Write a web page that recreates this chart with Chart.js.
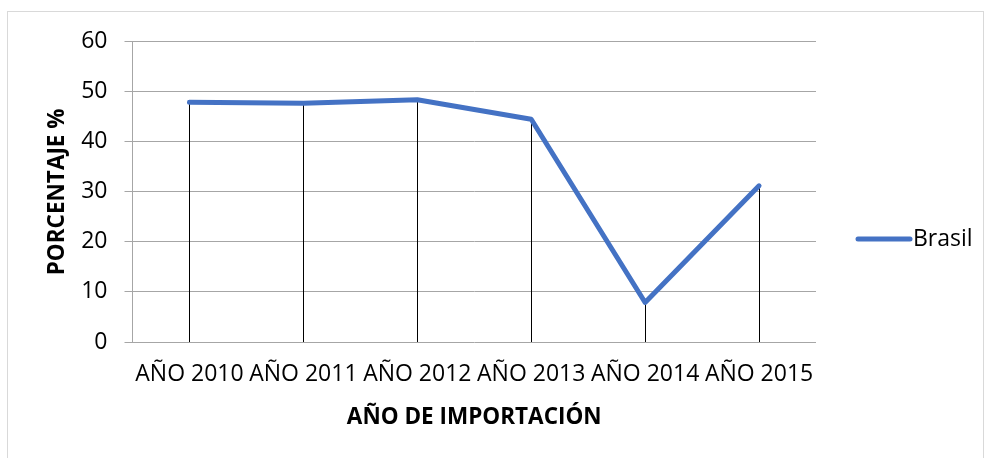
<!DOCTYPE html>
<html>
<head>
<meta charset="utf-8">
<script src="https://cdn.jsdelivr.net/npm/chart.js@4/dist/chart.umd.min.js"></script>
<style>
  html, body { margin: 0; padding: 0; background: #fff; }
  #wrap { position: relative; width: 986px; height: 458px; }
  #frame { position: absolute; left: 7px; top: 11px; width: 977px; height: 460px; border: 1px solid #d9d9d9; box-sizing: border-box; pointer-events: none; }
  canvas { position: absolute; left: 0; top: 0; }
</style>
</head>
<body>
<div id="wrap">
  <canvas id="c" width="986" height="458"></canvas>
  <div id="frame"></div>
</div>
<script>
const categories = ['AÑO 2010', 'AÑO 2011', 'AÑO 2012', 'AÑO 2013', 'AÑO 2014', 'AÑO 2015'];
const brasilValues = [47.9, 47.7, 48.4, 44.5, 7.9, 31.2];
const seriesName = 'Brasil';
const yTicks = [0, 10, 20, 30, 40, 50, 60];
const xTitle = 'AÑO DE IMPORTACIÓN';
const yTitle = 'PORCENTAJE %';

const FONT = '"Open Sans", sans-serif';
const LINE = '#4472C4';
const GRID = '#a6a6a6';

const dropLines = {
  id: 'dropLines',
  beforeDatasetsDraw(chart) {
    const ctx = chart.ctx;
    const y0 = chart.scales.y.getPixelForValue(0);
    const meta = chart.getDatasetMeta(0);
    ctx.save();
    ctx.strokeStyle = '#000';
    ctx.lineWidth = 1;
    meta.data.forEach(pt => {
      const x = Math.round(pt.x) + 0.5;
      ctx.beginPath();
      ctx.moveTo(x, pt.y);
      ctx.lineTo(x, y0);
      ctx.stroke();
    });
    ctx.restore();
  }
};

const customLegend = {
  id: 'customLegend',
  afterDraw(chart) {
    const ctx = chart.ctx;
    const ds = chart.data.datasets[0];
    const y = 239;
    ctx.save();
    ctx.strokeStyle = ds.borderColor;
    ctx.lineWidth = 5;
    ctx.lineCap = 'round';
    ctx.beginPath();
    ctx.moveTo(858, y);
    ctx.lineTo(910, y);
    ctx.stroke();
    ctx.fillStyle = '#000';
    ctx.font = '23px ' + FONT;
    ctx.textBaseline = 'middle';
    ctx.textAlign = 'left';
    ctx.fillText(ds.label, 913, y);
    ctx.restore();
  }
};

new Chart(document.getElementById('c'), {
  type: 'line',
  data: {
    labels: categories,
    datasets: [{
      label: seriesName,
      data: brasilValues,
      borderColor: LINE,
      backgroundColor: LINE,
      borderWidth: 5,
      borderJoinStyle: 'round',
      borderCapStyle: 'round',
      pointRadius: 0,
      tension: 0,
      fill: false
    }]
  },
  options: {
    responsive: false,
    animation: false,
    layout: { padding: { left: 0, top: 41.7, right: 170, bottom: 0 } },
    plugins: { legend: { display: false }, tooltip: { enabled: false } },
    scales: {
      x: {
        type: 'category',
        offset: true,
        grid: { display: false, drawTicks: false },
        border: { display: false },
        ticks: { color: '#000', font: { family: FONT, size: 23 }, padding: 19, autoSkip: false, maxRotation: 0, minRotation: 0 },
        title: { display: true, text: xTitle, color: '#000', font: { family: FONT, size: 22.5, weight: 'bold' }, padding: { top: 0, bottom: 27 } },
        afterFit(s) { s.height = 116; }
      },
      y: {
        min: 0, max: 60,
        afterBuildTicks(s) { s.ticks = yTicks.map(v => ({ value: v })); },
        grid: { color: GRID, lineWidth: 1, tickLength: 8, drawTicks: true, tickColor: GRID },
        border: { display: true, color: GRID, width: 1 },
        ticks: { color: '#000', font: { family: FONT, size: 23 }, padding: 17 },
        title: { display: true, text: yTitle, color: '#000', font: { family: FONT, size: 22.5, weight: 'bold' }, padding: { top: 44, bottom: 0 } },
        afterFit(s) { s.width = 132.5; }
      }
    }
  },
  plugins: [dropLines, customLegend]
});
</script>
</body>
</html>
